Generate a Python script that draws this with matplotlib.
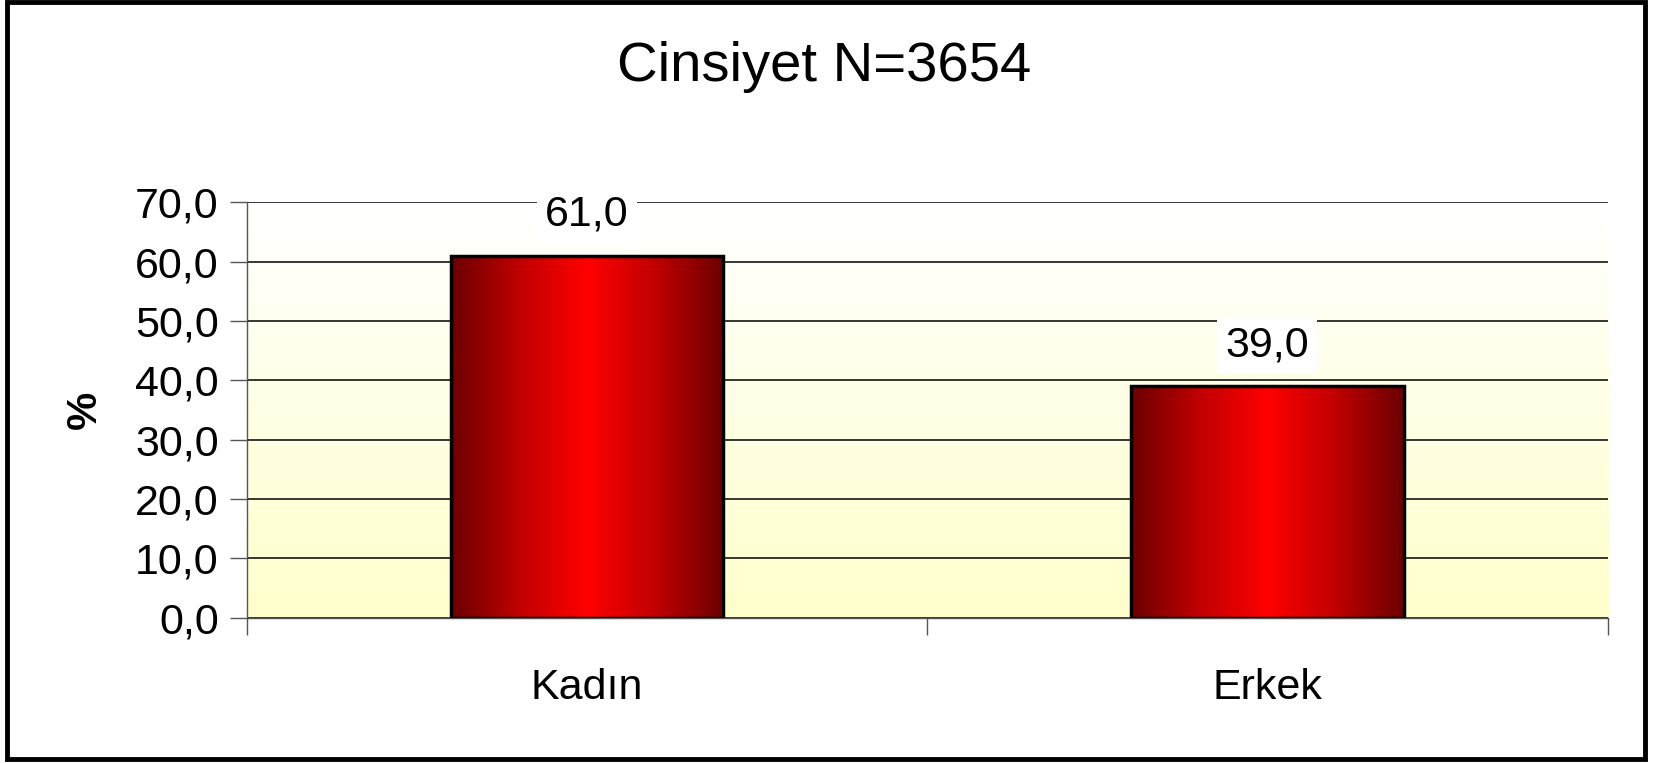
import numpy as np
import matplotlib.pyplot as plt
from matplotlib.colors import LinearSegmentedColormap
from matplotlib.patches import Rectangle

plt.rcParams['font.family'] = ['Liberation Sans', 'DejaVu Sans']

# data
categories = ['Kadın', 'Erkek']
values = [61.0, 39.0]
title = 'Cinsiyet N=3654'
y_ticks = [0, 10, 20, 30, 40, 50, 60, 70]

fig = plt.figure(figsize=(16.53, 7.63), dpi=100)
ax = fig.add_axes([0.1492, 0.1903, 0.8234, 0.5444])

x = np.arange(len(categories))

# background gradient: white at top, pale yellow at bottom
bg_cmap = LinearSegmentedColormap.from_list('bg', ['#ffffcc', '#ffffff'])
grad = np.linspace(0, 1, 256).reshape(-1, 1)
ax.imshow(grad, cmap=bg_cmap, aspect='auto', origin='lower',
          extent=[0, 1, 0, 1], transform=ax.transAxes, zorder=0)

ax.set_yticks(y_ticks)
ax.yaxis.grid(True, color='black', linewidth=1.1, zorder=1)
ax.set_axisbelow(True)

# bars with horizontal dark-red/red/dark-red gradient
bar_cmap = LinearSegmentedColormap.from_list('bar', ['#6c0000', '#c00000', '#ff0000', '#c00000', '#6c0000'])
hgrad = np.linspace(0, 1, 256).reshape(1, -1)
width = 0.4
bars = ax.bar(x, values, width=width, color='none', edgecolor='black',
              linewidth=2.5, zorder=3)
for b in bars:
    x0, y0 = b.get_x(), b.get_y()
    ax.imshow(hgrad, cmap=bar_cmap, aspect='auto',
              extent=[x0, x0 + b.get_width(), y0, y0 + b.get_height()], zorder=2)
ax.set_xlim(-0.5, len(categories) - 0.5)
ax.set_ylim(0, 70)

for xi, v in zip(x, values):
    ax.text(xi, v + 3.6, f'{v:.1f}'.replace('.', ','), ha='center', va='bottom',
            fontsize=31, zorder=4,
            bbox=dict(facecolor='white', edgecolor='none', pad=6))

ax.set_yticklabels([f'{t:.1f}'.replace('.', ',') for t in y_ticks], fontsize=31)
ax.tick_params(axis='y', length=12, width=1, color='#555555', pad=8)

# category labels centered, ticks at category boundaries
ax.set_xticks(x)
ax.set_xticklabels(categories, fontsize=31)
ax.tick_params(axis='x', length=0, pad=36)
ax.set_xticks([-0.5, 0.5, 1.5], minor=True)
ax.tick_params(axis='x', which='minor', length=12, width=1, color='#555555')

for side in ['top', 'right']:
    ax.spines[side].set_visible(False)
ax.spines['left'].set_color('#555555')
ax.spines['bottom'].set_color('#555555')
ax.spines['left'].set_linewidth(1)
ax.spines['bottom'].set_linewidth(1)

ax.set_ylabel('%', fontsize=31, fontweight='bold', labelpad=22)

fig.text(0.4985, 0.912, title, ha='center', va='center', fontsize=40.5)

# outer frame
fig.patches.append(Rectangle((0.004, 0.005), 0.991, 0.992, transform=fig.transFigure,
                             fill=False, edgecolor='black', linewidth=3.5))

fig.savefig('out.png', dpi=100)
